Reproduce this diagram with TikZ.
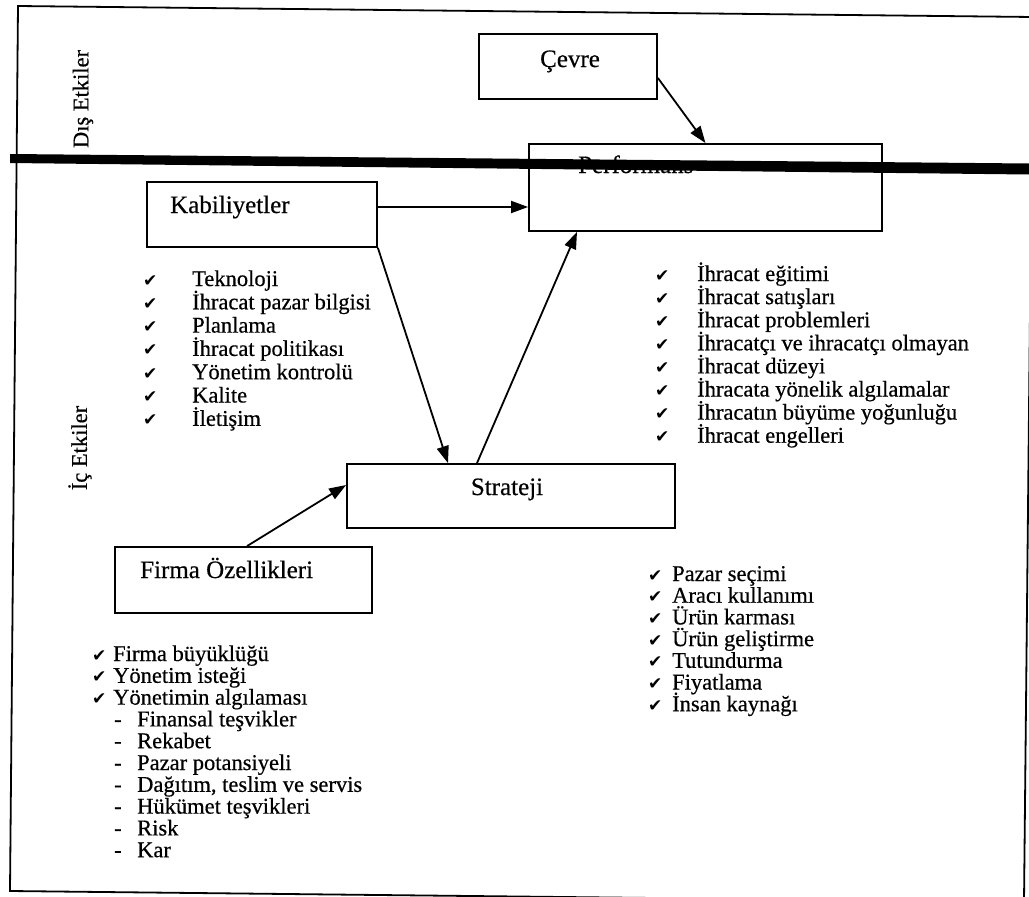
\documentclass[tikz,border=0pt]{standalone}
\usepackage{fontspec}
\setmainfont{Liberation Serif}
\newfontfamily\scan{Liberation Serif}[FakeBold=0.5]
\newfontfamily\symfont{DejaVu Sans}
\usetikzlibrary{arrows.meta}
\begin{document}
\begin{tikzpicture}[x=1pt,y=-1pt,
  box/.style={draw, line width=1.8pt, inner sep=0pt},
  lbl/.style={font=\scan\fontsize{25}{27}\selectfont, inner sep=0pt, anchor=base west},
  side/.style={font=\scan\fontsize{22.5}{24}\selectfont, inner sep=0pt, rotate=90},
  item/.style={font=\scan\fontsize{22.5}{24}\selectfont, inner sep=0pt, anchor=base west},
  chk/.style={font=\symfont\fontsize{17}{18}\selectfont, inner sep=0pt, anchor=base west},
  arr/.style={-{Triangle[length=17pt,width=12pt]}, line width=1.8pt}]
\useasboundingbox (0,0) rectangle (1029,897);
\clip (0,0) rectangle (1029,897);
% frame
\draw[line width=1.8pt] (18,6) -- (1033,17) -- (1024,902) -- (10,891) -- cycle;
% boxes
\node[box, minimum width=178pt, minimum height=65pt] (cevre) at (568,66.5) {};
\node[box, minimum width=353pt, minimum height=87pt] (perf) at (705.5,187.5) {};
\node[box, minimum width=230pt, minimum height=65pt] (kab) at (262,214.5) {};
\node[box, minimum width=328pt, minimum height=64pt] (strat) at (511,496) {};
\node[box, minimum width=257pt, minimum height=66pt] (firma) at (243.5,580) {};
% box labels
\node[lbl, anchor=base] (cevret) at (570,67) {Çevre};
\node[lbl] (perft) at (578,173) {Performans};
\node[lbl] (kabt) at (170,213) {Kabiliyetler};
\node[lbl, anchor=base] (stratt) at (507,495) {Strateji};
\node[lbl] (firmat) at (140,578) {Firma Özellikleri};
% thick separator
\fill (10,154) -- (1029,163.5) -- (1029,174.5) -- (10,163) -- cycle;
% side labels
\node[side] (dis) at (83,99) {Dış Etkiler};
\node[side] (ic) at (80,448) {İç Etkiler};
% arrows
\draw[arr] ([yshift=-11.5pt]cevre.east) -- (perf.north);
\draw[arr] ([yshift=7.5pt]kab.east) -- ([yshift=7.5pt]kab.east -| perf.west);
\draw[arr] (kab.south east) -- ([xshift=-63pt]strat.north);
\draw[arr] ([xshift=-34pt]strat.north) -- ([xshift=-128.5pt]perf.south);
\draw[arr] ([xshift=3.5pt]firma.north) -- ([yshift=11pt]strat.west);
% Kabiliyetler list
\foreach \t [count=\i from 0] in {Teknoloji, İhracat pazar bilgisi, Planlama, İhracat politikası, Yönetim kontrolü, Kalite, İletişim}{
  \node[chk] (kc\i) at (143,286+23.3*\i) {✔};
  \node[item] (kt\i) at (192,286+23.3*\i) {\t};
}
% Performans list
\foreach \t [count=\i from 0] in {İhracat eğitimi, İhracat satışları, İhracat problemleri, İhracatçı ve ihracatçı olmayan, İhracat düzeyi, İhracata yönelik algılamalar, İhracatın büyüme yoğunluğu, İhracat engelleri}{
  \node[chk] (pc\i) at (655,281+23.1*\i) {✔};
  \node[item] (pt\i) at (697,281+23.1*\i) {\t};
}
% Strateji list
\foreach \t [count=\i from 0] in {Pazar seçimi, Aracı kullanımı, Ürün karması, Ürün geliştirme, Tutundurma, Fiyatlama, İnsan kaynağı}{
  \node[chk] (sc\i) at (648,581+21.7*\i) {✔};
  \node[item] (st\i) at (672,581+21.7*\i) {\t};
}
% Firma list
\foreach \t [count=\i from 0] in {Firma büyüklüğü, Yönetim isteği, Yönetimin algılaması}{
  \node[chk] (fc\i) at (92,661+21.8*\i) {✔};
  \node[item] (ft\i) at (113,661+21.8*\i) {\t};
}
\foreach \t [count=\i from 3] in {Finansal teşvikler, Rekabet, Pazar potansiyeli, {Dağıtım, teslim ve servis}, Hükümet teşvikleri, Risk, Kar}{
  \node[item] (fd\i) at (114,661+21.8*\i) {-};
  \node[item] (ft\i) at (137,661+21.8*\i) {\t};
}
\end{tikzpicture}
\end{document}
